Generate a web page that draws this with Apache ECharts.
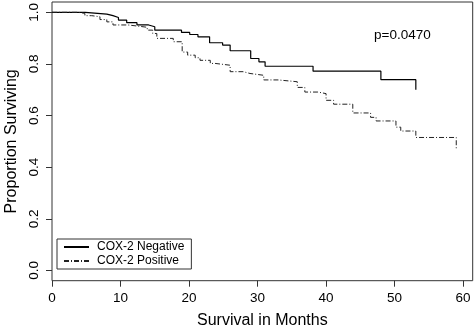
<!DOCTYPE html>
<html>
<head>
<meta charset="utf-8">
<script src="https://cdn.jsdelivr.net/npm/echarts@6/dist/echarts.min.js"></script>
<style>
  html, body { margin: 0; padding: 0; background: #fff; }
  #chart-box { width: 474px; height: 330px; }
</style>
</head>
<body>
<div id="chart-box"></div>
<script>
// Kaplan-Meier steps (months, proportion surviving)
const negTimes = [0, 4.85, 8.0, 8.9, 9.7, 10.9, 12.4, 14.1, 15.0, 18.9, 20.1, 21.3, 23.0, 24.9, 26.0, 29.0, 30.2, 31.1, 38.1, 48.0, 53.1]
const negSurv = [1.0, 0.993, 0.987, 0.980, 0.970, 0.960, 0.951, 0.944, 0.931, 0.922, 0.914, 0.905, 0.882, 0.873, 0.851, 0.821, 0.808, 0.791, 0.772, 0.739, 0.700]

const posTimes = [0, 3.8, 4.8, 5.8, 7.0, 8.0, 8.9, 11.1, 12.4, 13.9, 14.7, 15.3, 17.7, 19.0, 19.8, 20.9, 21.6, 23.1, 23.8, 26.0, 27.9, 28.9, 30.9, 33.0, 35.8, 36.9, 38.8, 40.0, 41.1, 43.9, 46.5, 47.3, 50.2, 50.9, 53.1, 59.0]
const posSurv = [1.0, 0.996, 0.987, 0.983, 0.972, 0.963, 0.951, 0.947, 0.942, 0.931, 0.918, 0.899, 0.886, 0.846, 0.834, 0.824, 0.814, 0.802, 0.795, 0.770, 0.763, 0.756, 0.738, 0.731, 0.709, 0.691, 0.685, 0.659, 0.644, 0.610, 0.593, 0.579, 0.555, 0.540, 0.515, 0.471]

const seriesNames = ["COX-2 Negative", "COX-2 Positive"]
const xTicks = [0, 10, 20, 30, 40, 50, 60]
const yTicks = [0, 0.2, 0.4, 0.6, 0.8, 1.0]
const pValueText = "p=0.0470"

const font = "Liberation Sans, Arial, sans-serif"

function pairs(xs, ys) {
    return xs.map(function (x, i) { return [x, ys[i]] })
}

let chart = echarts.init(document.getElementById("chart-box"))
let option = {
    animation: false,
    backgroundColor: "#fff",
    textStyle: { fontFamily: font, color: "#000" },
    grid: {
        left: 52,
        right: 1.3,
        top: 2,
        bottom: 49.3,
        show: true,
        borderColor: "#333",
        borderWidth: 1,
        containLabel: false,
        outerBoundsMode: "none"
    },
    xAxis: {
        type: "value",
        min: 0,
        max: 61.4,
        interval: 10,
        name: "Survival in Months",
        nameLocation: "middle",
        nameGap: 32,
        nameTextStyle: { fontSize: 16, fontFamily: font, color: "#000" },
        axisLine: { show: false, onZero: false },
        axisTick: { show: true, length: 6, lineStyle: { color: "#333" }, customValues: xTicks },
        axisLabel: {
            fontSize: 13.5, fontFamily: font, color: "#000", margin: 11,
            customValues: xTicks, alignMinLabel: "center", alignMaxLabel: "center"
        },
        splitLine: { show: false }
    },
    yAxis: {
        type: "value",
        min: -0.04,
        max: 1.04,
        name: "Proportion Surviving",
        nameLocation: "middle",
        nameGap: 28,
        nameTextStyle: { fontSize: 16, fontFamily: font, color: "#000" },
        axisLine: { show: false, onZero: false },
        axisTick: { show: true, length: 6, lineStyle: { color: "#333" }, customValues: yTicks },
        axisLabel: {
            fontSize: 13.5,
            fontFamily: font,
            color: "#000",
            rotate: 90,
            margin: 11,
            customValues: yTicks,
            alignMinLabel: "center",
            alignMaxLabel: "center",
            formatter: function (v) { return v.toFixed(1) }
        },
        splitLine: { show: false }
    },
    legend: {
        orient: "vertical",
        left: 57,
        top: 239,
        padding: [2, 7, 2, 6],
        itemWidth: 25,
        itemHeight: 14,
        itemGap: 2,
        borderColor: "#333",
        borderWidth: 1,
        backgroundColor: "#fff",
        itemStyle: { opacity: 0 },
        textStyle: { fontSize: 12, fontFamily: font, color: "#000", padding: [0, 0, 0, 3] },
        data: seriesNames
    },
    graphic: [
        {
            type: "text",
            left: 374,
            top: 28,
            style: { text: pValueText, font: "13.5px " + font, fill: "#000" }
        }
    ],
    series: [
        {
            name: seriesNames[0],
            type: "line",
            step: "end",
            symbol: "none",
            data: pairs(negTimes, negSurv),
            lineStyle: { color: "#000", width: 1.2, type: "solid" },
            itemStyle: { color: "#000" }
        },
        {
            name: seriesNames[1],
            type: "line",
            step: "end",
            symbol: "none",
            data: pairs(posTimes, posSurv),
            lineStyle: { color: "#222", width: 1, type: [5, 2, 1, 2] },
            itemStyle: { color: "#222" }
        }
    ]
}
chart.setOption(option)
</script>
</body>
</html>
